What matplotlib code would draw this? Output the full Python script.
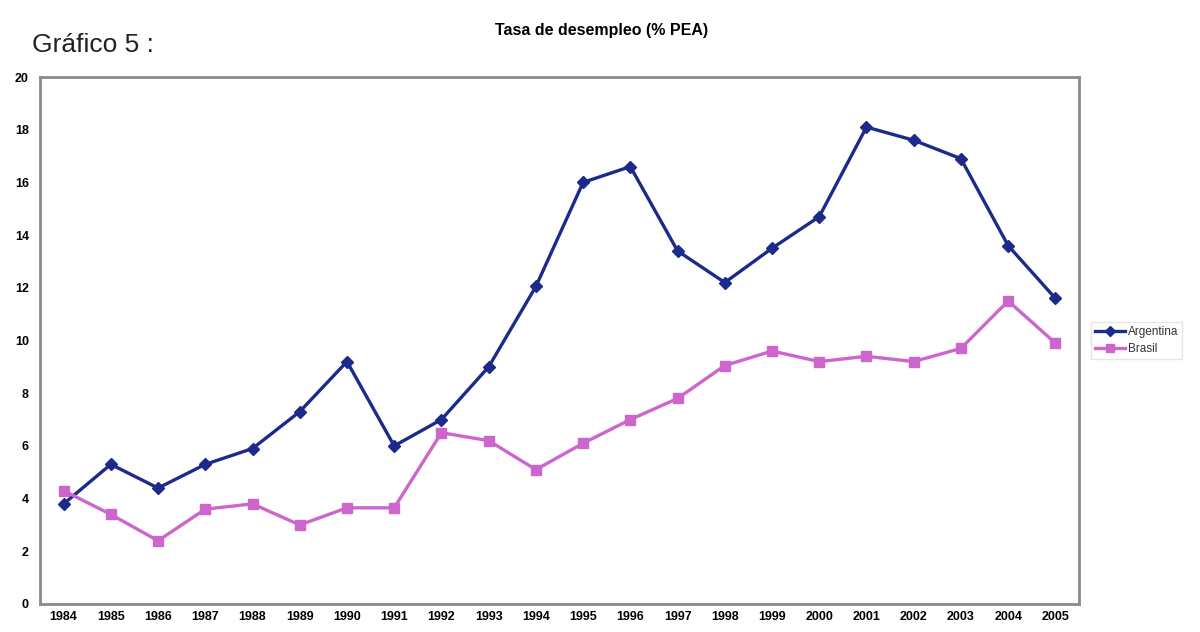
import matplotlib
matplotlib.use("Agg")
import matplotlib.pyplot as plt

years = ["1984", "1985", "1986", "1987", "1988", "1989", "1990", "1991", "1992", "1993", "1994",
         "1995", "1996", "1997", "1998", "1999", "2000", "2001", "2002", "2003", "2004", "2005"]
argentina = [3.8, 5.3, 4.4, 5.3, 5.9, 7.3, 9.2, 6.0, 7.0, 9.0, 12.05,
             16.0, 16.6, 13.4, 12.2, 13.5, 14.7, 18.1, 17.6, 16.9, 13.6, 11.6]
brasil = [4.3, 3.4, 2.4, 3.6, 3.8, 3.0, 3.65, 3.65, 6.5, 6.2, 5.1,
          6.1, 7.0, 7.8, 9.05, 9.6, 9.2, 9.4, 9.2, 9.7, 11.5, 9.9]
yticks = [0, 2, 4, 6, 8, 10, 12, 14, 16, 18, 20]

plt.rcParams['font.family'] = ['Liberation Sans', 'DejaVu Sans']

fig = plt.figure(figsize=(12, 6.32), dpi=100)
ax = fig.add_axes([40/1200, 1 - 604/632, (1079-40)/1200, (604-77)/632])

x = list(range(len(years)))
ax.plot(x, argentina, color="#1c2a8c", lw=2.4, marker="D", ms=6, label="Argentina")
ax.plot(x, brasil, color="#cc66cc", lw=2.4, marker="s", ms=7, label="Brasil")

ax.set_xlim(-0.5, len(years) - 0.5)
ax.set_ylim(0, 20)
ax.set_yticks(yticks)
ax.set_yticklabels([str(v) for v in yticks], fontsize=9, fontweight="bold")
ax.set_xticks(x)
ax.set_xticklabels(years, fontsize=9, fontweight="bold")
ax.tick_params(axis='y', length=0, pad=8)
ax.tick_params(axis='x', length=0, pad=5)
for s in ax.spines.values():
    s.set_color("#8a8a8a")
    s.set_linewidth(2)

leg = ax.legend(loc="center left", bbox_to_anchor=(1.006, 0.5), fontsize=8.5, frameon=True,
                fancybox=False, edgecolor="#e0e0e0", handlelength=2.6, borderpad=0.3,
                labelspacing=0.45, handletextpad=0.2, markerscale=0.8)
for t in leg.get_texts():
    t.set_color("#333333")

fig.text(602/1200, 1 - 30/632, "Tasa de desempleo (% PEA)", ha="center", va="center",
         fontsize=11.5, fontweight="bold")
fig.text(32/1200, 1 - 45/632, "Gráfico 5 :", ha="left", va="center", fontsize=19, color="#222222")

fig.savefig("out.png", dpi=100)
